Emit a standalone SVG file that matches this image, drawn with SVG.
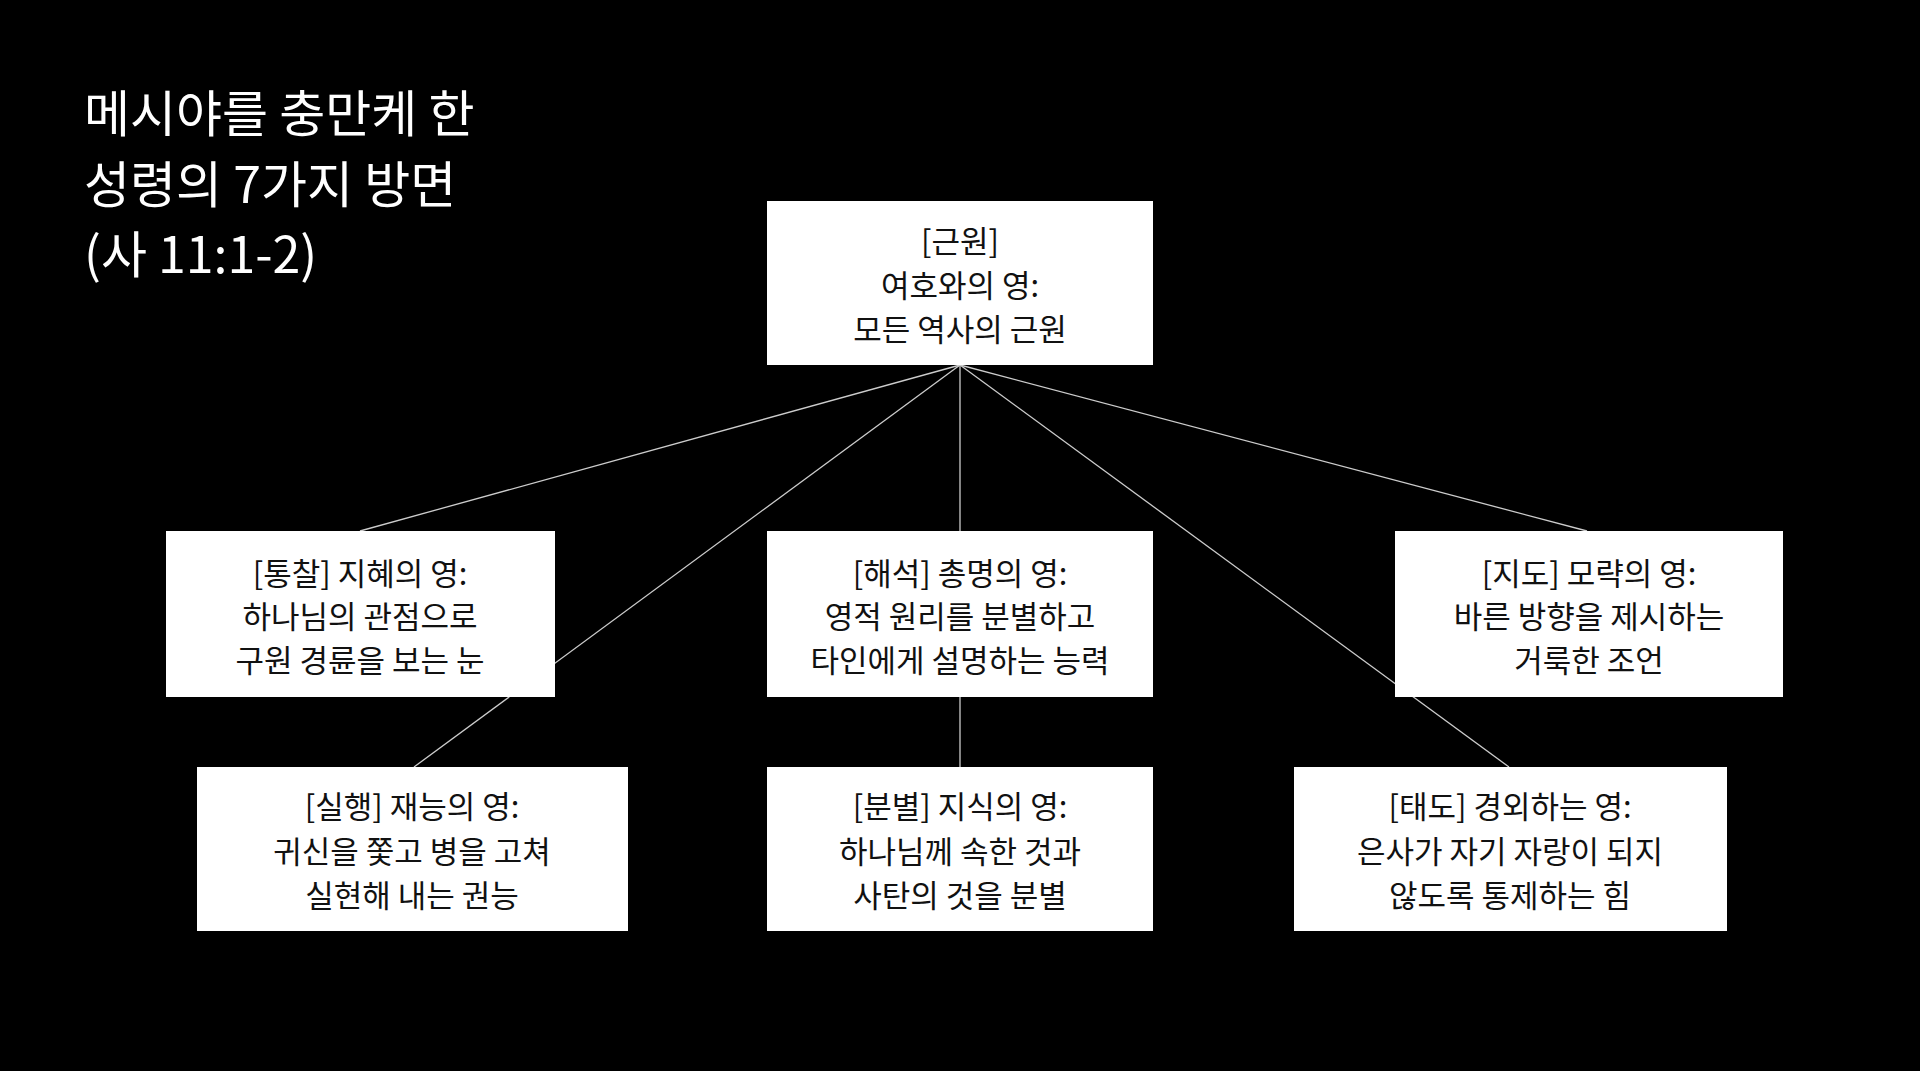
<svg xmlns="http://www.w3.org/2000/svg" width="1920" height="1071" viewBox="0 0 1920 1071">
<style>
.t{font-family:"Noto Sans CJK KR","Noto Sans",sans-serif;fill:#fff}
.n rect{fill:#fff}
.n text{font-family:"Noto Sans CJK KR","Noto Sans",sans-serif;font-size:31px;fill:#111;text-anchor:middle;dominant-baseline:central}
#connectors line{stroke:#ccc;stroke-width:1.3}
</style>
<rect width="1920" height="1071" fill="#000"/>
<g id="title" class="t" font-size="50">
<text x="84" y="132">메시야를 충만케 한</text>
<text x="84" y="203">성령의 7가지 방면</text>
<text x="84" y="273">(사 11:1-2)</text>
</g>
<g id="connectors">
<line x1="960" y1="365" x2="360" y2="531"/>
<line x1="960" y1="365" x2="1587" y2="531"/>
<line x1="960" y1="365" x2="960" y2="531"/>
<line x1="960" y1="365" x2="414" y2="767"/>
<line x1="960" y1="365" x2="1509" y2="767"/>
<line x1="960" y1="697" x2="960" y2="767"/>
</g>
<g id="root" class="n"><rect x="767" y="201" width="386" height="164"/>
<text x="960" y="239">[근원]</text><text x="960" y="283">여호와의 영:</text><text x="960" y="327">모든 역사의 근원</text></g>
<g id="n1" class="n"><rect x="166" y="531" width="389" height="166"/>
<text x="360" y="571">[통찰] 지혜의 영:</text><text x="360" y="614">하나님의 관점으로</text><text x="360" y="658">구원 경륜을 보는 눈</text></g>
<g id="n2" class="n"><rect x="767" y="531" width="386" height="166"/>
<text x="960" y="571">[해석] 총명의 영:</text><text x="960" y="614">영적 원리를 분별하고</text><text x="960" y="658">타인에게 설명하는 능력</text></g>
<g id="n3" class="n"><rect x="1395" y="531" width="388" height="166"/>
<text x="1589" y="571">[지도] 모략의 영:</text><text x="1589" y="614">바른 방향을 제시하는</text><text x="1589" y="658">거룩한 조언</text></g>
<g id="n4" class="n"><rect x="197" y="767" width="431" height="164"/>
<text x="412" y="804">[실행] 재능의 영:</text><text x="412" y="849">귀신을 쫓고 병을 고쳐</text><text x="412" y="893">실현해 내는 권능</text></g>
<g id="n5" class="n"><rect x="767" y="767" width="386" height="164"/>
<text x="960" y="804">[분별] 지식의 영:</text><text x="960" y="849">하나님께 속한 것과</text><text x="960" y="893">사탄의 것을 분별</text></g>
<g id="n6" class="n"><rect x="1294" y="767" width="433" height="164"/>
<text x="1510" y="804">[태도] 경외하는 영:</text><text x="1510" y="849">은사가 자기 자랑이 되지</text><text x="1510" y="893">않도록 통제하는 힘</text></g>
</svg>
